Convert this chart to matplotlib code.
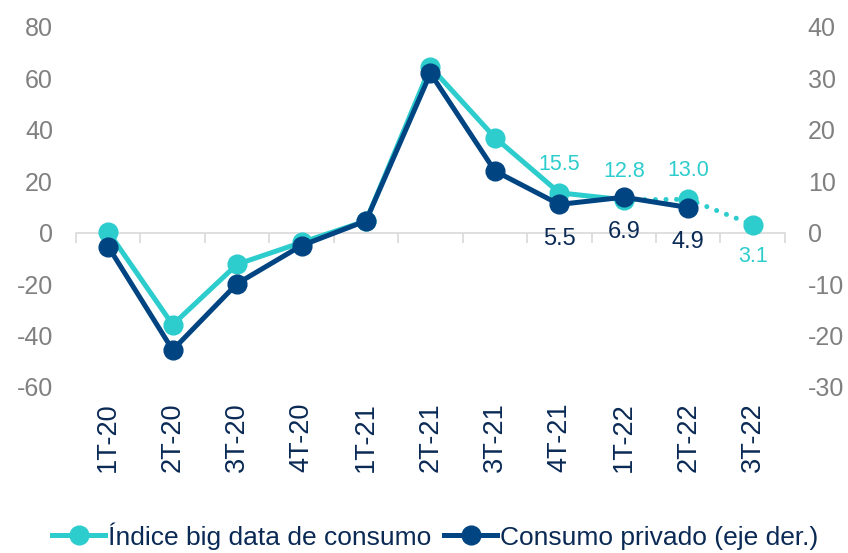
import matplotlib
matplotlib.use("Agg")
import matplotlib.pyplot as plt
from matplotlib.lines import Line2D
import numpy as np

plt.rcParams['font.family'] = ['Liberation Sans', 'DejaVu Sans']
plt.rcParams['axes.unicode_minus'] = False

categories = ["1T-20", "2T-20", "3T-20", "4T-20", "1T-21", "2T-21",
              "3T-21", "4T-21", "1T-22", "2T-22", "3T-22"]
big_data = [0.4, -35.8, -12.3, -3.8, 4.6, 64.5, 37.0, 15.5, 12.8, 13.0, 3.1]
consumo = [-2.7, -22.8, -9.9, -2.5, 2.3, 31.0, 12.0, 5.5, 6.9, 4.9]
left_ticks = [-60, -40, -20, 0, 20, 40, 60, 80]
right_ticks = [-30, -20, -10, 0, 10, 20, 30, 40]

CYAN = "#2DCCCD"
NAVY = "#004481"
GRAY = "#808080"
TXT = "#0A2A55"
LW = 3.6
MS = 13.5

fig = plt.figure(figsize=(8.48, 5.53), dpi=100)
ax = fig.add_axes([0.0896, 0.3002, 0.836, 0.651])
ax2 = ax.twinx()

x = np.arange(len(categories))
n_solid = 9  # cyan solid through 1T-22, dotted afterwards

# cyan series (left axis)
ax.plot(x[:n_solid], big_data[:n_solid], color=CYAN, lw=LW, zorder=3,
        solid_capstyle='round')
ax.plot(x[n_solid - 1:], big_data[n_solid - 1:], color=CYAN, lw=LW,
        linestyle=(0, (0.01, 2.1)), dash_capstyle='round', zorder=3)
ax.plot(x, big_data, linestyle='none', marker='o', ms=MS, color=CYAN, zorder=4)

# navy series (right axis)
xc = np.arange(len(consumo))
ax2.plot(xc, consumo, color=NAVY, lw=LW, marker='o', ms=MS, zorder=5)

ax.set_xlim(-0.5, len(categories) - 0.5)
ax.set_ylim(-60, 80)
ax2.set_ylim(-30, 40)
ax.set_yticks(left_ticks)
ax2.set_yticks(right_ticks)
ax.tick_params(axis='y', length=0, labelsize=18, labelcolor=GRAY, pad=16.5)
ax2.tick_params(axis='y', length=0, labelsize=18, labelcolor=GRAY, pad=16.5)

for a in (ax, ax2):
    for s in ['top', 'right', 'left', 'bottom']:
        a.spines[s].set_visible(False)

# zero axis line with boundary ticks
ax.spines['bottom'].set_visible(True)
ax.spines['bottom'].set_position(('data', 0))
ax.spines['bottom'].set_color('#D9D9D9')
ax.spines['bottom'].set_linewidth(1.2)
ax.set_xticks(np.arange(len(categories) + 1) - 0.5)
ax.tick_params(axis='x', length=7, width=1.2, color='#D9D9D9', labelbottom=False)

sec = ax.secondary_xaxis(0)
sec.set_xticks(x)
sec.set_xticklabels(categories, rotation=90)
sec.tick_params(length=0, labelsize=19.5, labelcolor=TXT, pad=11)
sec.spines['bottom'].set_visible(False)

# data labels
for i in [7, 8, 9]:
    ax.annotate(f"{big_data[i]:.1f}", (x[i], big_data[i]), xytext=(0, 13),
                textcoords='offset points', ha='center', va='bottom',
                fontsize=15.5, color=CYAN)
ax.annotate(f"{big_data[10]:.1f}", (x[10], big_data[10]), xytext=(0, -15),
            textcoords='offset points', ha='center', va='top',
            fontsize=15.5, color=CYAN)
for i in [7, 8, 9]:
    ax2.annotate(f"{consumo[i]:.1f}", (xc[i], consumo[i]), xytext=(0, -17),
                 textcoords='offset points', ha='center', va='top',
                 fontsize=17, color=TXT)

handles = [Line2D([], [], color=CYAN, lw=LW, marker='o', ms=MS),
           Line2D([], [], color=NAVY, lw=LW, marker='o', ms=MS)]
leg = fig.legend(handles, ["Índice big data de consumo", "Consumo privado (eje der.)"],
                 loc='lower center', bbox_to_anchor=(0.513, -0.037), ncol=2,
                 frameon=False, fontsize=19, handlelength=2.0, handletextpad=0.1,
                 columnspacing=0.5)
for t in leg.get_texts():
    t.set_color(TXT)

fig.savefig("out.png", dpi=100)
